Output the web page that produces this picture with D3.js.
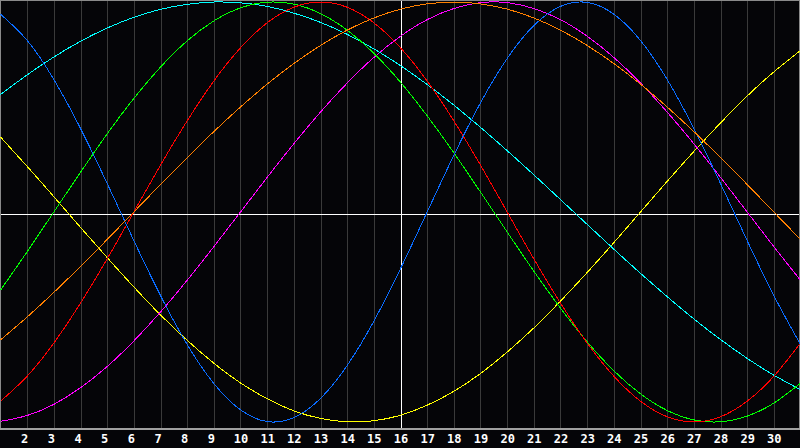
<!DOCTYPE html>
<html>
<head>
<meta charset="utf-8">
<script src="https://cdn.jsdelivr.net/npm/d3@7"></script>
<style>
  html, body { margin: 0; padding: 0; background: #050508; }
  svg { display: block; }
</style>
</head>
<body>
<div id="chart"></div>
<script>
// days shown on the x axis (1..31), labels only for 2..30
const days = d3.range(1, 32);
const tickDays = d3.range(2, 31);

// cycle values in percent, one per day 1..31
const physical = [94.2, 81.7, 63.1, 39.8, 13.6, -13.6, -39.8, -63.1, -81.7, -94.2, -99.8, -97.9, -88.8,
  -73.1, -52.0, -27.0, 0, 27.0, 52.0, 73.1, 88.8, 97.9, 99.8, 94.2, 81.7, 63.1, 39.8, 13.6, -13.6, -39.8, -63.1];
const emotional = [-90.1, -78.2, -62.4, -43.4, -22.3, 0, 22.3, 43.4, 62.4, 78.2, 90.1, 97.5, 100, 97.5,
  90.1, 78.2, 62.4, 43.4, 22.3, 0, -22.3, -43.4, -62.4, -78.2, -90.1, -97.5, -100, -97.5, -90.1, -78.2, -62.4];
const intellectual = [-37.2, -18.9, 0, 18.9, 37.2, 54.1, 69.0, 81.5, 91.0, 97.2, 99.9, 99.0, 94.5, 86.6,
  75.6, 61.8, 45.8, 28.2, 9.5, -9.5, -28.2, -45.8, -61.8, -75.6, -86.6, -94.5, -99.0, -99.9, -97.2, -91.0, -81.5];
const intuitive = [-99.7, -96.9, -91.6, -83.7, -73.6, -61.4, -47.6, -32.5, -16.5, 0, 16.5, 32.5, 47.6, 61.4,
  73.6, 83.7, 91.6, 96.9, 99.7, 99.7, 96.9, 91.6, 83.7, 73.6, 61.4, 47.6, 32.5, 16.5, 0, -16.5, -32.5];
const aesthetic = [35.7, 21.7, 7.3, -7.3, -21.7, -35.7, -49.0, -61.1, -72.0, -81.4, -88.9, -94.7, -98.3, -99.9,
  -99.4, -96.8, -92.0, -85.4, -76.9, -66.7, -55.2, -42.4, -28.8, -14.6, 0, 14.6, 28.8, 42.4, 55.2, 66.7, 76.9];
const awareness = [-60.9, -50.0, -38.3, -25.9, -13.1, 0, 13.1, 25.9, 38.3, 50.0, 60.9, 70.7, 79.3, 86.6,
  92.4, 96.6, 99.1, 100, 99.1, 96.6, 92.4, 86.6, 79.3, 70.7, 60.9, 50.0, 38.3, 25.9, 13.1, 0, -13.1];
const spiritual = [55.9, 65.3, 73.8, 81.3, 87.6, 92.7, 96.5, 98.9, 100.0, 99.6, 97.9, 94.7, 90.3, 84.6,
  77.7, 69.7, 60.7, 50.9, 40.3, 29.2, 17.7, 5.9, -5.9, -17.7, -29.2, -40.3, -50.9, -60.7, -69.7, -77.7, -84.6];

const series = [
  { name: 'aesthetic', values: aesthetic, color: '#ffff00' },
  { name: 'intuitive', values: intuitive, color: '#ff00ff' },
  { name: 'spiritual', values: spiritual, color: '#00ffff' },
  { name: 'intellectual', values: intellectual, color: '#00ff00' },
  { name: 'emotional', values: emotional, color: '#ff0000' },
  { name: 'physical', values: physical, color: '#0a6cff' },
  { name: 'awareness', values: awareness, color: '#ff8000' }
];

const width = 800, height = 448;
const plotH = 428;

const svg = d3.select('#chart').append('svg')
  .attr('width', width)
  .attr('height', height)
  .style('background', '#050508');

const x = d3.scaleLinear().domain([1, 31]).range([0.5, 800.5]);
const y = d3.scaleLinear().domain([100, -100]).range([2, 422]);

// vertical day grid
svg.append('g')
  .selectAll('line')
  .data(tickDays)
  .join('line')
  .attr('x1', d => Math.round(x(d)) + 0.5)
  .attr('x2', d => Math.round(x(d)) + 0.5)
  .attr('y1', 0)
  .attr('y2', plotH)
  .attr('stroke', d => d === 16 ? '#ffffff' : '#3a3a3a')
  .attr('stroke-width', 1)
  .attr('shape-rendering', 'crispEdges');

// zero line
svg.append('line')
  .attr('x1', 0).attr('x2', width)
  .attr('y1', plotH / 2 + 0.5).attr('y2', plotH / 2 + 0.5)
  .attr('stroke', '#ffffff')
  .attr('shape-rendering', 'crispEdges');

// frame
svg.append('path')
  .attr('d', `M0.5,${plotH}V0.5H799.5V${plotH}`)
  .attr('fill', 'none')
  .attr('stroke', '#8a8a8a')
  .attr('shape-rendering', 'crispEdges');

// curves
const line = d3.line()
  .x((d, i) => x(days[i]))
  .y(d => y(d))
  .curve(d3.curveNatural);

svg.append('g')
  .selectAll('path')
  .data(series)
  .join('path')
  .attr('d', d => line(d.values))
  .attr('fill', 'none')
  .attr('stroke', d => d.color)
  .attr('stroke-width', 1)
  .attr('shape-rendering', 'crispEdges');

// bottom axis
const xAxis = d3.axisBottom(x)
  .tickValues(tickDays)
  .tickSize(0)
  .tickPadding(6)
  .tickFormat(d3.format('d'));

const axisG = svg.append('g')
  .attr('transform', `translate(0,${plotH + 0.5})`)
  .call(xAxis);

axisG.select('.domain')
  .attr('d', `M0,0H${width}`)
  .attr('stroke', '#a0a0a0')
  .attr('stroke-width', 2)
  .attr('shape-rendering', 'crispEdges');

// single digits sit a little left of their grid line
axisG.selectAll('text')
  .attr('dx', d => d < 10 ? -3 : 0)
  .attr('fill', '#ffffff')
  .attr('font-family', '"DejaVu Sans Mono", monospace')
  .attr('font-weight', 'bold')
  .attr('font-size', '12px');
</script>
</body>
</html>
